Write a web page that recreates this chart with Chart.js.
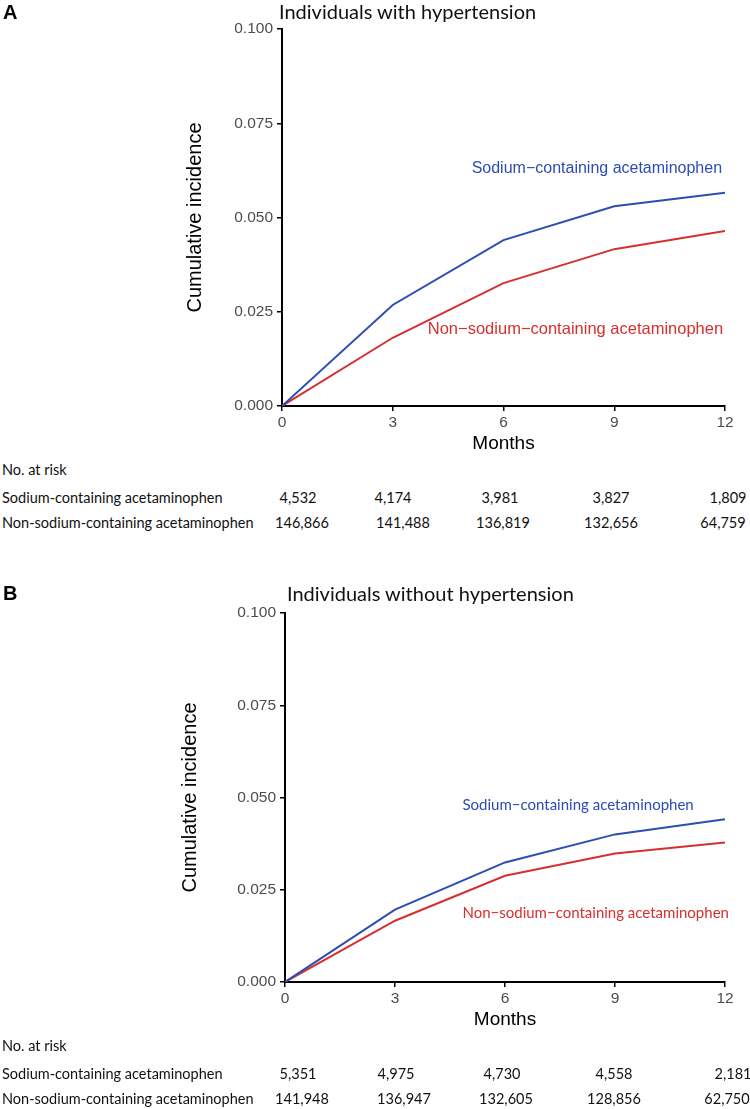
<!DOCTYPE html>
<html>
<head>
<title>Cumulative incidence by acetaminophen type</title>
<script src="https://cdn.jsdelivr.net/npm/chart.js"></script>
<style>
  body { margin: 0; background: #fff; }
  #page { position: relative; width: 750px; height: 1109px; overflow: hidden; }
  canvas { position: absolute; left: 0; }
  .txt { position: absolute; white-space: nowrap; color: #111; }
  .panel { font-family: 'Liberation Sans', Arial, sans-serif; font-weight: bold; font-size: 20px; color: #000; transform: translateY(-50%); }
  .title { font-family: Lato, 'Open Sans', sans-serif; font-size: 20px; transform: translateY(-50%); }
  .risk { font-family: Lato, 'Open Sans', sans-serif; font-size: 14.5px; transform: translateY(-50%); }
  .num { transform: translate(-50%, -50%); }
</style>
</head>
<body>
<div id="page"></div>
<script>
  // time points and y ticks
  const months = [0, 3, 6, 9, 12];
  const yTicks = [0, 0.025, 0.05, 0.075, 0.1];

  // A: individuals with hypertension
  const htnSodium    = [0, 0.0268, 0.0440, 0.0530, 0.0566];
  const htnNonSodium = [0, 0.0181, 0.0326, 0.0416, 0.0464];
  const htnRiskSodium    = ['4,532', '4,174', '3,981', '3,827', '1,809'];
  const htnRiskNonSodium = ['146,866', '141,488', '136,819', '132,656', '64,759'];

  // B: individuals without hypertension
  const noHtnSodium    = [0, 0.0196, 0.0324, 0.0400, 0.0441];
  const noHtnNonSodium = [0, 0.0166, 0.0288, 0.0348, 0.0378];
  const noHtnRiskSodium    = ['5,351', '4,975', '4,730', '4,558', '2,181'];
  const noHtnRiskNonSodium = ['141,948', '136,947', '132,605', '128,856', '62,750'];

  const groupNames = ['Sodium-containing acetaminophen', 'Non-sodium-containing acetaminophen'];
  const BLUE = '#2c4db3';
  const RED = '#d5302e';

  Chart.defaults.font.family = "'Liberation Sans', Arial, sans-serif";

  // draws the curve labels at data coordinates
  const curveLabels = {
    id: 'curveLabels',
    afterDatasetsDraw(chart, args, opts) {
      const { ctx, scales: { x, y } } = chart;
      ctx.save();
      ctx.textBaseline = 'middle';
      opts.items.forEach(it => {
        ctx.font = it.font || opts.font;
        ctx.fillStyle = it.color;
        ctx.textAlign = it.align;
        ctx.fillText(it.text, x.getPixelForValue(it.x), y.getPixelForValue(it.y));
      });
      ctx.restore();
    }
  };

  const page = document.getElementById('page');

  function addText(cls, text, left, top) {
    const d = document.createElement('div');
    d.className = 'txt ' + cls;
    d.textContent = text;
    d.style.left = left + 'px';
    d.style.top = top + 'px';
    page.appendChild(d);
  }

  function makePanel(p) {
    const canvas = document.createElement('canvas');
    canvas.width = 750;
    canvas.height = p.height;
    canvas.style.top = p.top + 'px';
    page.appendChild(canvas);

    const axisFont = { size: 15.5 };
    new Chart(canvas.getContext('2d'), {
      type: 'line',
      data: {
        datasets: [
          { data: months.map((m, i) => ({ x: m, y: p.sodium[i] })), borderColor: BLUE },
          { data: months.map((m, i) => ({ x: m, y: p.nonSodium[i] })), borderColor: RED }
        ].map(d => Object.assign(d, { borderWidth: 2, pointRadius: 0, tension: 0, fill: false }))
      },
      options: {
        responsive: false,
        animation: false,
        layout: { padding: p.padding },
        plugins: {
          legend: { display: false },
          tooltip: { enabled: false },
          curveLabels: { font: p.labelFont, items: p.labels }
        },
        scales: {
          x: {
            type: 'linear', min: 0, max: 12,
            afterBuildTicks: s => { s.ticks = months.map(v => ({ value: v })); },
            ticks: { color: '#4d4d4d', font: axisFont, padding: 2 },
            grid: { drawOnChartArea: false, drawTicks: true, tickLength: 5, color: '#000', lineWidth: 1.5 },
            border: { display: true, color: '#000', width: 2 },
            title: { display: true, text: 'Months', color: '#000', font: { size: 19 }, padding: { top: 0, bottom: 4 } },
            afterFit: s => { s.height = p.xHeight; }
          },
          y: {
            min: 0, max: 0.1,
            afterBuildTicks: s => { s.ticks = yTicks.map(v => ({ value: v })); },
            ticks: { color: '#4d4d4d', font: axisFont, padding: 4, callback: v => v.toFixed(3) },
            grid: { drawOnChartArea: false, drawTicks: true, tickLength: 5, color: '#000', lineWidth: 1.5 },
            border: { display: true, color: '#000', width: 2 },
            title: { display: true, text: 'Cumulative incidence', color: '#000', font: { size: 20 }, padding: { top: 4, bottom: 4 } },
            afterFit: s => { s.width = p.yWidth; }
          }
        }
      },
      plugins: [curveLabels]
    });

    addText('panel', p.letter, 3, p.letterY);
    addText('title', p.title, p.titleX, p.titleY);
    addText('risk', 'No. at risk', 2, p.riskY[0]);
    addText('risk', groupNames[0], 2, p.riskY[1]);
    addText('risk', groupNames[1], 2, p.riskY[2]);
    p.riskSodium.forEach((v, i) => addText('risk num', v, p.colsSodium[i], p.riskY[1]));
    p.riskNonSodium.forEach((v, i) => addText('risk num', v, p.colsNonSodium[i], p.riskY[2]));
  }

  makePanel({
    letter: 'A', title: 'Individuals with hypertension',
    sodium: htnSodium, nonSodium: htnNonSodium,
    riskSodium: htnRiskSodium, riskNonSodium: htnRiskNonSodium,
    top: 0, height: 460, padding: { top: 29, left: 179, right: 25, bottom: 1 },
    yWidth: 103, xHeight: 53, titleX: 279, titleY: 11, letterY: 12,
    labelFont: "16px 'Liberation Sans', Arial, sans-serif",
    labels: [
      { text: 'Sodium\u2212containing acetaminophen', x: 11.92, y: 0.0629, color: BLUE, align: 'right' },
      { text: 'Non\u2212sodium\u2212containing acetaminophen', x: 11.95, y: 0.0204, color: RED, align: 'right',
        font: "16.5px 'Liberation Sans', Arial, sans-serif" }
    ],
    riskY: [469, 497, 522],
    colsSodium: [298, 393, 500, 611, 728],
    colsNonSodium: [302, 403, 503, 611, 723]
  });

  makePanel({
    letter: 'B', title: 'Individuals without hypertension',
    sodium: noHtnSodium, nonSodium: noHtnNonSodium,
    riskSodium: noHtnRiskSodium, riskNonSodium: noHtnRiskNonSodium,
    top: 582, height: 460, padding: { top: 31, left: 174, right: 25, bottom: 7 },
    yWidth: 111, xHeight: 53, titleX: 287, titleY: 593, letterY: 593,
    labelFont: "15px Lato, 'Open Sans', sans-serif",
    labels: [
      { text: 'Sodium\u2212containing acetaminophen', x: 4.84, y: 0.0479, color: BLUE, align: 'left' },
      { text: 'Non\u2212sodium\u2212containing acetaminophen', x: 4.84, y: 0.0187, color: RED, align: 'left' }
    ],
    riskY: [1045, 1073, 1098],
    colsSodium: [298, 396, 502, 614, 733],
    colsNonSodium: [302, 404, 506, 614, 727]
  });
</script>
</body>
</html>
